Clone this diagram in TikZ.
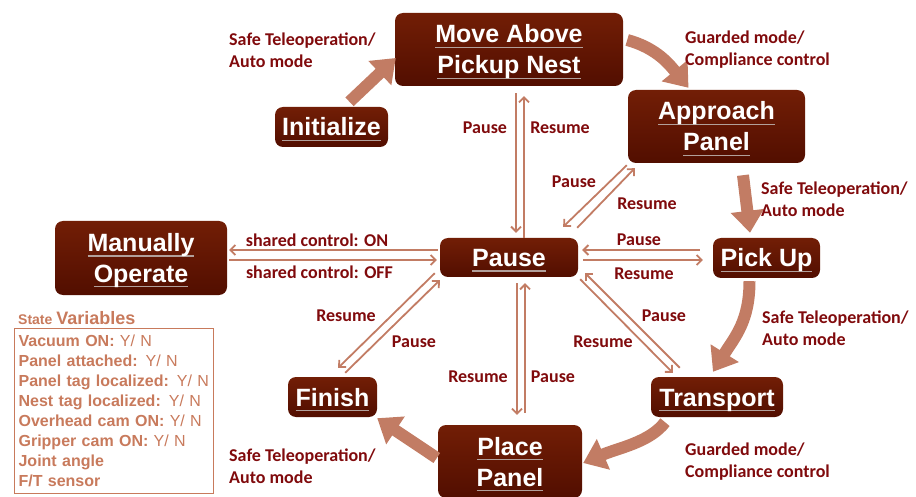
\documentclass[tikz,border=0pt]{standalone}
\usepackage{fontspec}
\usetikzlibrary{arrows.meta}
\newfontfamily\boxfont{Liberation Sans}
\newfontfamily\labfont{Carlito}
\definecolor{boxtop}{RGB}{114,30,6}
\definecolor{boxbot}{RGB}{82,14,0}
\definecolor{arrc}{RGB}{194,124,100}
\definecolor{labred}{RGB}{128,10,12}
\definecolor{ulgray}{RGB}{178,160,155}
\definecolor{varc}{RGB}{200,122,92}
\newbox\ttlbox
\newcommand\ttl[1]{\setbox\ttlbox\hbox{#1}\rule{0pt}{18pt}\smash{\rlap{\color{ulgray}\rule[-5pt]{\wd\ttlbox}{1.4pt}}\box\ttlbox}}

\begin{document}
\begin{tikzpicture}[x=1pt,y=-1pt,
    stbox/.style={rectangle,rounded corners=8pt,top color=boxtop,bottom color=boxbot,
        text=white,font=\boxfont\bfseries\fontsize{25}{31}\selectfont,align=center,inner sep=0pt},
    lab/.style={text=labred,font=\labfont\bfseries\fontsize{18}{22}\selectfont,inner sep=0pt},
    thinarr/.style={draw=arrc,line width=1.8pt,-{Straight Barb[length=5pt,width=10pt]}},
    bigarr/.style={draw=arrc,line width=12pt,-{Triangle[length=22pt,width=32pt]}}]
    \useasboundingbox (0,0) rectangle (916,497);

    % states
    \node[stbox,minimum width=228pt,minimum height=73pt] (move) at (509,49.5) {\ttl{Move Above}\\\ttl{Pickup Nest}};
    \node[stbox,minimum width=113pt,minimum height=40pt] (init) at (331.5,127) {\ttl{Initialize}};
    \node[stbox,minimum width=177pt,minimum height=73pt] (approach) at (716.5,126.5) {\ttl{Approach}\\\ttl{Panel}};
    \node[stbox,minimum width=172pt,minimum height=74pt] (manual) at (141,258) {\ttl{Manually}\\\ttl{Operate}};
    \node[stbox,minimum width=138pt,minimum height=39pt] (pause) at (509,257.5) {\ttl{Pause}};
    \node[stbox,minimum width=107pt,minimum height=40pt] (pickup) at (766.5,258) {\ttl{Pick Up}};
    \node[stbox,minimum width=89pt,minimum height=40pt] (finish) at (332.5,397) {\ttl{Finish}};
    \node[stbox,minimum width=132pt,minimum height=40pt] (transport) at (717,397) {\ttl{Transport}};
    \node[stbox,minimum width=144pt,minimum height=73pt] (place) at (510,461.5) {\ttl{Place}\\\ttl{Panel}};

    % main transitions
    \draw[bigarr] ([shift={(18,-5)}]init.north) -- ([shift={(1,8.5)}]move.west);
    \draw[bigarr] ([shift={(4,-9.5)}]move.east) .. controls +(30,8) and +(-18,-22) .. ([shift={(-28,-2)}]approach.north);
    \draw[bigarr] ([shift={(26.5,12)}]approach.south) -- ([shift={(-16.5,-5)}]pickup.north);
    \draw[bigarr] ([shift={(-17,3)}]pickup.south) .. controls +(0,40) and +(22,-35) .. ([shift={(-4,-5)}]transport.north);
    \draw[bigarr] ([shift={(-52,5)}]transport.south) .. controls +(-15,20) and +(35,-15) .. ([shift={(1,1.5)}]place.east);
    \draw[bigarr] ([shift={(-1,-3.5)}]place.west) -- ([shift={(0,1)}]finish.south east);

    \node[lab,align=left,anchor=west] (lsafea) at (229,50) {Safe Teleoperation/\\Auto mode};
    \node[lab,align=left,anchor=west] (lguarda) at (685,50) {Guarded mode/\\Compliance control};
    \node[lab,align=left,anchor=west] (lsafeb) at (761,199) {Safe Teleoperation/\\Auto mode};
    \node[lab,align=left,anchor=west] (lsafec) at (762,328) {Safe Teleoperation/\\Auto mode};
    \node[lab,align=left,anchor=west] (lguardb) at (685,462) {Guarded mode/\\Compliance control};
    \node[lab,align=left,anchor=west] (lsafed) at (229,466) {Safe Teleoperation/\\Auto mode};

    % pause / resume
    \draw[thinarr] ([shift={(7,7)}]move.south) -- ([shift={(7,-5)}]pause.north);
    \draw[thinarr] ([shift={(15,0)}]pause.north) -- ([shift={(15,10)}]move.south);
    \draw[thinarr] ([shift={(-1,2)}]approach.south west) -- ([shift={(-15,-11)}]pause.north east);
    \draw[thinarr] ([shift={(-1,-10)}]pause.north east) -- ([shift={(7,5)}]approach.south west);
    \draw[thinarr] ([shift={(-13,-8)}]pickup.west) -- ([shift={(4,-7.5)}]pause.east);
    \draw[thinarr] ([shift={(5,2.5)}]pause.east) -- ([shift={(-10,2)}]pickup.west);
    \draw[thinarr] ([shift={(-2,-7.5)}]pause.west) -- ([shift={(2,-8)}]manual.east);
    \draw[thinarr] ([shift={(2,2)}]manual.east) -- ([shift={(-3,2.5)}]pause.west);
    \draw[thinarr] ([shift={(-5,-4)}]pause.south west) -- ([shift={(-39,-9)}]finish.north east);
    \draw[thinarr] ([shift={(-32,-4)}]finish.north east) -- ([shift={(0,3)}]pause.south west);
    \draw[thinarr] ([shift={(29,-9)}]transport.north west) -- ([shift={(7,-4)}]pause.south east);
    \draw[thinarr] ([shift={(2,2)}]pause.south east) -- ([shift={(22,-4)}]transport.north west);
    \draw[thinarr] ([shift={(8,6)}]pause.south) -- ([shift={(7,-10)}]place.north);
    \draw[thinarr] ([shift={(15,-12)}]place.north) -- ([shift={(16,6)}]pause.south);

    \node[lab] (lpa) at (485,128) {Pause};
    \node[lab] (lra) at (560,128) {Resume};
    \node[lab] (lpb) at (574,182) {Pause};
    \node[lab] (lrb) at (647,204) {Resume};
    \node[lab] (lpc) at (639,240) {Pause};
    \node[lab] (lrc) at (644,274) {Resume};
    \node[lab] (lon) at (317,240) {shared control: ON};
    \node[lab] (loff) at (319.5,272) {shared control: OFF};
    \node[lab] (lrd) at (346,316) {Resume};
    \node[lab] (lpd) at (414,342) {Pause};
    \node[lab] (lpe) at (664,316) {Pause};
    \node[lab] (lre) at (603,342) {Resume};
    \node[lab] (lrf) at (478,377) {Resume};
    \node[lab] (lpf) at (553,377) {Pause};

    % state variables
    \node[draw=varc,line width=1.2pt,text=varc,font=\boxfont\bfseries\fontsize{16}{20}\selectfont,
        align=left,text width=191pt,inner xsep=4pt,minimum height=165pt,anchor=north west] (vars) at (14,328)
        {Vacuum ON: \textmd{Y/ N}\\Panel attached: \textmd{Y/ N}\\Panel tag localized: \textmd{Y/ N}\\
         Nest tag localized: \textmd{Y/ N}\\Overhead cam ON: \textmd{Y/ N}\\Gripper cam ON: \textmd{Y/ N}\\
         Joint angle\\F/T sensor};
    \node[anchor=base west,text=varc,font=\boxfont\bfseries,inner sep=0pt] (vartitle) at ([shift={(4,-4)}]vars.north west)
        {\fontsize{14}{16}\selectfont State \fontsize{18}{20}\selectfont Variables};
\end{tikzpicture}
\end{document}
